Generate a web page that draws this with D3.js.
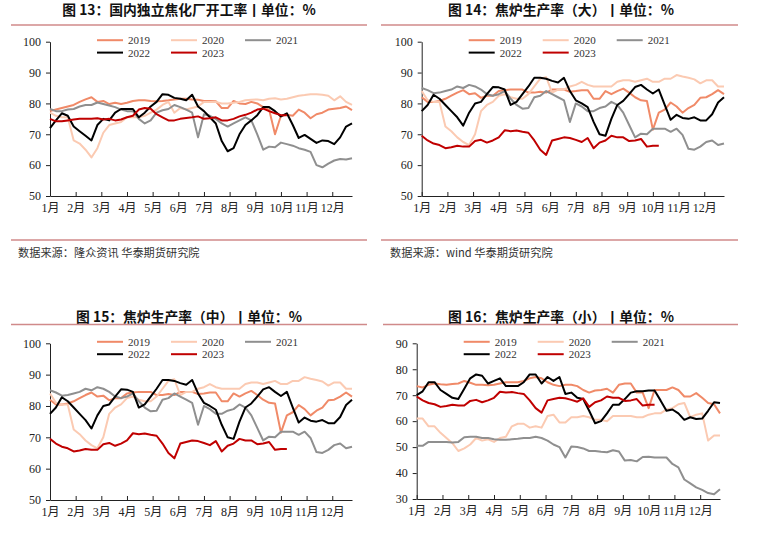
<!DOCTYPE html>
<html>
<head>
<meta charset="utf-8">
<script src="https://cdn.jsdelivr.net/npm/d3@7"></script>
<style>
  body { margin: 0; background: #fff; }
  svg { display: block; }
  .title { font-family: "Noto Sans CJK SC", sans-serif; font-weight: bold; font-size: 13.8px; fill: #111; }
  .source { font-family: "Noto Sans CJK SC", sans-serif; font-size: 11.2px; fill: #333; }
  .axis text { font-family: "Liberation Serif", "Noto Sans CJK SC", serif; font-size: 12px; fill: #222; }
  .legend text { font-family: "Liberation Serif", serif; font-size: 11px; fill: #333; }
  .axis path, .axis line { stroke: #222; stroke-width: 1; }
</style>
</head>
<body>
<div id="chart"></div>
<script>
const years = ["2019", "2020", "2021", "2022", "2023"];
const yearColours = ["#f08a68", "#fbcab2", "#8f8f8f", "#000000", "#c00000"];
const monthLabels = ["1月", "2月", "3月", "4月", "5月", "6月", "7月", "8月", "9月", "10月", "11月", "12月"];

// 图13 国内独立焦化厂开工率, weekly
const coking2019 = [77.5,78,78.5,79,79.5,80.5,81.3,82,80.5,80.8,79.8,80.2,79.8,80.2,80.8,81,81,80.8,80.7,80.8,81,81.3,81.5,81.5,81.3,81.2,80.8,80.8,80.7,78.5,78.5,80.8,80,79.8,80.5,80,78.8,78,70,76,76.3,76,78,77,75.2,76.5,77,78,78.3,78.5,79,77.8];
const coking2020 = [77,76,75.5,75.5,68,67,65,62.5,65.5,70.5,73,73.5,74,75.5,75.5,75.5,76,77,78,79.5,80.5,77,78.5,78,78.5,79,80.5,80.5,80.5,80,80,80.2,80.5,81,81.2,81.3,81,81.5,81.7,81.3,81.5,82,82.5,82.7,83,83,82.8,82.5,81,82.3,80.5,79.5];
const coking2021 = [78.2,77.5,77.5,78,78.2,79,79.5,79.5,80.3,79.8,79.3,78.8,78,77.5,77.5,75,73.5,74.5,77,77.8,78.2,79.5,78.8,78,77,69,76.5,76,75,73.5,72.5,73.5,74.5,75.5,74.5,70,65,66,65.8,67.3,66.8,66.3,65.5,65,64.3,60,59.3,60.5,61.5,62,61.8,62.2];
const coking2022 = [72,74.5,76.8,76,72.5,71,69.5,68,73,75,74.5,77,78.2,78.2,78.2,75.5,77,79,80.5,83,82.8,81.8,81.5,81,82.8,79,77.5,75.5,73.5,67.8,64.5,65.5,70,73,74.5,76.2,78.8,78.8,77.5,75.8,76.8,73,68.8,69.8,68.5,67.2,68,67.8,66.8,69,72.5,73.5];
const coking2023 = [75,74.2,74.2,74.5,74.8,75,75,75,75.2,74.8,75,74.5,74.8,75.5,76,78,78.5,78.3,76.5,75.5,74.5,74.5,75,75.3,75.5,75.8,75,75.2,75.5,74.5,74.5,75,75.8,76.3,77,78,78.3,77.5,76.8,76.2,76.2];

// 图14 焦炉生产率（大）, weekly
const large2019 = [82,80.5,80.5,80.8,81.5,82.5,83.5,84.3,83,83.3,81.8,82.5,82.5,84,84.3,84.5,84.5,84.5,83.5,83.5,83.8,83.5,84.5,84.5,84.5,83.8,84,84.3,84.3,81.5,81.5,84,83,84,84.8,83.5,82,81,80.8,71.5,77,78,80.3,79,77,78.5,79.5,81.8,82,83,84.3,83];
const large2020 = [84,81,80.5,80.5,72.5,71,69,67.5,66.5,70,77.5,79.5,80.5,82.5,83,82,81.5,81.5,83,85.5,88,88.5,83.5,84.5,84.5,85.5,86,87,86,85.5,85.5,85.5,85.5,87,87.5,87.5,87,87.5,88,87,87,88,88,89.2,88.7,88.3,87.8,86.5,87.5,87.5,85.5,85.5];
const large2021 = [85,84.3,83.3,83.5,84,84.5,85.5,85,86,85.5,84.5,83,82.5,83,84,81.5,79.5,78.3,78.5,82,82.5,84,83,82,81,74,80,79,77.5,77.5,78.5,79,80.5,79.5,77,73,69,70.2,70,71.8,71.8,71.8,70.8,71.8,69.8,65.3,65,66,67.5,68,66.5,67];
const large2022 = [77.5,79.5,82.8,81.5,79.5,77.5,75.5,72.8,77,80,80.5,83,85.3,85.2,84.5,79.5,80.5,83,85.5,88.3,88.3,88,87.3,86.8,88.3,84,81,80,78.8,74,70,69.5,75,79.5,80.8,83,85.3,86,84.5,83.2,84.5,79.5,74.7,76.3,75.3,75,75.5,74.5,74.5,76.5,80.3,82];
const large2023 = [69.5,68,67,66.5,65.5,65.8,66.3,66,66,67.8,68.2,67.3,68,69,71.3,71,71.2,70.8,70.5,68,65,63.3,68,68.5,69,68.8,68.2,67.5,68.8,65.5,67.3,68,69.5,69,69,67.8,68,68.5,66,66.3,66.3];

// 图15 焦炉生产率（中）: the source plots the same values as 图14
const medium2019 = large2019;
const medium2020 = large2020;
const medium2021 = large2021;
const medium2022 = large2022;
const medium2023 = large2023;

// 图16 焦炉生产率（小）, weekly
const small2019 = [73.5,73,74,74.5,74.2,74,74.3,74.5,75.5,74.8,74,74,73.8,74,74.5,75,75,75,75.5,76.5,77,76.5,75,74,73.5,74,74,73.5,72,71,71.8,72,72.5,71,74,74.5,74.5,71,71,65,72,72,72,73,72,69.5,69.5,70.8,69,67,66.5,63];
const small2020 = [61,61,58,58,55.5,53.5,51.5,48.5,49.5,51,53.5,52.5,53,52,53.5,54,58,59,59,57.5,58,57.5,62,62.5,59.5,59.5,61.5,61.5,62,61.5,60.5,60.5,60,62,62,62,62,61.5,61.5,62.5,63,63,64.5,65,66.5,67,61.5,62.5,63,52.5,54.5,54.5];
const small2021 = [50.5,50.5,52,52,52,52,51.8,52,53.8,54,54,53.5,53.5,53,52.8,52.8,53,53.2,53.5,53.5,54,53.5,52.5,51,50,46,50.2,50,49.5,48.5,48.5,48.2,48,48.8,48.3,44.8,45,44.5,46.2,46.3,46,46,46,43.5,42.2,37.5,36,34.5,33.5,32.3,31.8,33.8];
const small2022 = [70,71.5,75,75,72,70.5,69,68.5,72.5,76.5,78,77.5,74.5,75.5,76.5,73.5,73.5,73.5,75,78,78,74.5,77,75.5,77,70.5,71,69,68.5,64,59.2,60,63,66.3,66.3,68.5,71,71.5,71.5,71.8,71.8,68,64,64.5,63,60.5,61.5,60.8,61,64,67.3,67];
const small2023 = large2023;

const width = 781, height = 533;
const svg = d3.select("#chart").append("svg")
    .attr("width", width)
    .attr("height", height);

const panels = [
  { title: "图 13：国内独立焦化厂开工率丨单位：%", titleX: 189, titleY: 15, ruleX: [11, 367], ruleY: 25,
    left: 50, right: 352, top: 41.7, bottom: 196, yDomain: [50, 100],
    series: [coking2019, coking2020, coking2021, coking2022, coking2023],
    source: "数据来源：隆众资讯  华泰期货研究院", sourceX: 18, sourceRuleX: [11, 367] },
  { title: "图 14：焦炉生产率（大）丨单位：%", titleX: 561, titleY: 15, ruleX: [381, 738], ruleY: 25,
    left: 421.7, right: 724, top: 41.7, bottom: 196, yDomain: [50, 100],
    series: [large2019, large2020, large2021, large2022, large2023],
    source: "数据来源：wind  华泰期货研究院", sourceX: 390, sourceRuleX: [381, 738] },
  { title: "图 15：焦炉生产率（中）丨单位：%", titleX: 189, titleY: 322, ruleX: [11, 367], ruleY: 324.5,
    left: 50, right: 352, top: 343.3, bottom: 500, yDomain: [50, 100],
    series: [medium2019, medium2020, medium2021, medium2022, medium2023] },
  { title: "图 16：焦炉生产率（小）丨单位：%", titleX: 561, titleY: 322, ruleX: [383, 738], ruleY: 324.5,
    left: 416.7, right: 720, top: 343.3, bottom: 499, yDomain: [30, 90],
    series: [small2019, small2020, small2021, small2022, small2023] }
];

panels.forEach(drawPanel);

function drawPanel(p) {
  const g = svg.append("g");

  g.append("text")
      .attr("class", "title")
      .attr("x", p.titleX)
      .attr("y", p.titleY)
      .attr("text-anchor", "middle")
      .text(p.title);

  g.append("line")
      .attr("x1", p.ruleX[0]).attr("x2", p.ruleX[1])
      .attr("y1", p.ruleY).attr("y2", p.ruleY)
      .attr("stroke", "#d08a8a")
      .attr("stroke-width", 1.5);

  if (p.source) {
    g.append("line")
        .attr("x1", p.sourceRuleX[0]).attr("x2", p.sourceRuleX[1])
        .attr("y1", 240).attr("y2", 240)
        .attr("stroke", "#d08a8a")
        .attr("stroke-width", 1.5);
    g.append("text")
        .attr("class", "source")
        .attr("x", p.sourceX)
        .attr("y", 257)
        .text(p.source);
  }

  // weekly positions, 52 weeks; month ticks at 52/12 week steps
  const x = d3.scaleLinear().domain([0, 51]).range([p.left, p.right]);
  const y = d3.scaleLinear().domain(p.yDomain).range([p.bottom, p.top]);

  const xAxis = d3.axisBottom(x)
      .tickValues(monthLabels.map((m, i) => i * 52 / 12))
      .tickFormat((d, i) => monthLabels[i])
      .tickSizeInner(-4)
      .tickSizeOuter(0)
      .tickPadding(7);

  const yAxis = d3.axisLeft(y)
      .ticks(5)
      .tickSizeInner(4)
      .tickSizeOuter(0)
      .tickPadding(5);

  g.append("g")
      .attr("class", "axis")
      .attr("transform", "translate(0," + p.bottom + ")")
      .call(xAxis);

  g.append("g")
      .attr("class", "axis")
      .attr("transform", "translate(" + p.left + ",0)")
      .call(yAxis);

  const line = d3.line()
      .x((d, i) => x(i))
      .y(d => y(d));

  p.series.forEach((values, i) => {
    g.append("path")
        .datum(values)
        .attr("fill", "none")
        .attr("stroke", yearColours[i])
        .attr("stroke-width", 2)
        .attr("stroke-linejoin", "round")
        .attr("d", line);
  });

  // legend: two rows, three columns
  const legend = g.append("g").attr("class", "legend");
  years.forEach((yr, i) => {
    const col = i < 3 ? i : i - 3;
    const row = i < 3 ? 0 : 1;
    const lx = p.left + 47 + col * 74;
    const ly = p.top - 1.5 + row * 12.4;
    legend.append("line")
        .attr("x1", lx).attr("x2", lx + 26)
        .attr("y1", ly).attr("y2", ly)
        .attr("stroke", yearColours[i])
        .attr("stroke-width", 2);
    legend.append("text")
        .attr("x", lx + 31)
        .attr("y", ly + 4)
        .text(yr);
  });
}
</script>
</body>
</html>
